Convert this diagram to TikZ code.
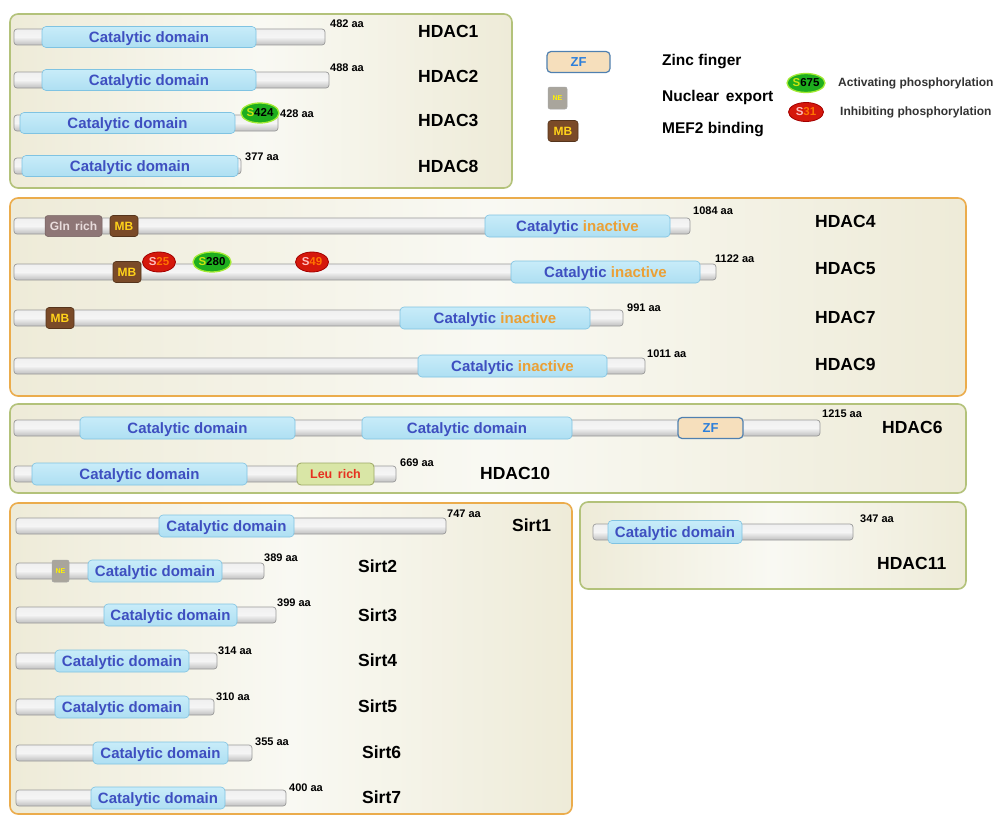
\documentclass[tikz,border=0pt]{standalone}
\usepackage{fontspec}
\setmainfont{Liberation Sans}
\usetikzlibrary{shapes.geometric}
\definecolor{catfill}{HTML}{AEDFF2}
\definecolor{catfilltop}{HTML}{C8ECF9}
\definecolor{catdraw}{HTML}{7FC3E2}
\definecolor{cattext}{HTML}{3E4FC0}
\definecolor{inact}{HTML}{EBA035}
\definecolor{mbfill}{HTML}{7A4A28}
\definecolor{mbtext}{HTML}{FFD21A}
\definecolor{glnfill}{HTML}{8E7676}
\definecolor{glntext}{HTML}{E8DCDC}
\definecolor{zffill}{HTML}{F6DFBC}
\definecolor{zfdraw}{HTML}{4F80B0}
\definecolor{zftext}{HTML}{2C7FDB}
\definecolor{nefill}{HTML}{A9A59C}
\definecolor{leufill}{HTML}{D9E6A6}
\definecolor{leudraw}{HTML}{9CA865}
\definecolor{leutext}{HTML}{E63020}
\definecolor{grnfill}{HTML}{1EAE1E}
\definecolor{grndraw}{HTML}{A2EA33}
\definecolor{redfill}{HTML}{D5180C}
\definecolor{reddraw}{HTML}{A30000}
\definecolor{boxgreen}{HTML}{B3C27A}
\definecolor{boxorange}{HTML}{EBAC4C}
\definecolor{beige}{HTML}{EEEBD8}
\definecolor{beigelt}{HTML}{F9F9F3}
\tikzset{
  grpbox/.style={rounded corners=8pt, line width=1.6pt, left color=beige, right color=beige, middle color=beigelt},
  greenbox/.style={grpbox, draw=boxgreen},
  orangebox/.style={grpbox, draw=boxorange},
  barsty/.style={rectangle, rounded corners=3pt, draw=gray!80, line width=0.7pt, top color=gray!12, bottom color=gray!50, middle color=gray!8, inner sep=0pt},
  catsty/.style={rectangle, rounded corners=4pt, draw=catdraw, line width=0.6pt, top color=catfilltop, bottom color=catfill, inner sep=0pt, text depth=0pt, font=\fontsize{15}{15}\selectfont\bfseries, text=cattext},
  mbsty/.style={rectangle, rounded corners=3pt, draw=mbfill!70!black, line width=0.6pt, fill=mbfill, inner sep=0pt, font=\fontsize{12}{12}\selectfont\bfseries, text=mbtext},
  glnsty/.style={rectangle, rounded corners=3pt, draw=glnfill!80!black, line width=0.5pt, fill=glnfill, inner sep=0pt, font=\fontsize{12}{12}\selectfont\bfseries, text=glntext},
  zfsty/.style={rectangle, rounded corners=4pt, draw=zfdraw, line width=1.2pt, fill=zffill, inner sep=0pt, font=\fontsize{13}{13}\selectfont\bfseries, text=zftext},
  nesty/.style={rectangle, rounded corners=2pt, draw=gray!70, line width=0.5pt, fill=nefill, inner sep=0pt, font=\fontsize{7}{7}\selectfont\bfseries, text=yellow},
  leusty/.style={rectangle, rounded corners=4pt, draw=leudraw, line width=0.8pt, fill=leufill, inner sep=0pt, font=\fontsize{12.5}{12.5}\selectfont\bfseries, text=leutext},
  actsty/.style={ellipse, draw=grndraw, line width=1.3pt, fill=grnfill, inner sep=0pt, minimum width=33pt, minimum height=20pt, font=\fontsize{11.5}{11.5}\selectfont\bfseries},
  inhsty/.style={ellipse, draw=reddraw, line width=0.8pt, fill=redfill, inner sep=0pt, minimum width=33pt, minimum height=20pt, font=\fontsize{11.5}{11.5}\selectfont\bfseries},
  aasty/.style={anchor=west, inner sep=0pt, font=\fontsize{11}{11}\selectfont\bfseries},
  namesty/.style={anchor=west, inner sep=0pt, font=\fontsize{17.5}{17.5}\selectfont\bfseries},
  legsty/.style={anchor=west, inner sep=0pt, font=\fontsize{15.5}{15.5}\selectfont\bfseries},
  legsmall/.style={anchor=west, inner sep=0pt, font=\fontsize{12}{12}\selectfont\bfseries, text=black!80},
}
% name, x1, x2, yc
\newcommand\pbar[4]{\node[barsty, minimum width={(#3-#2)*1pt}, minimum height=16pt] (#1) at ({(#2+#3)/2},#4) {};}
% name, style, x1, x2, yc, height, text
\newcommand\pdom[7]{\node[#2, minimum width={(#4-#3)*1pt}, minimum height=#6pt] (#1) at ({(#3+#4)/2},#5) {#7};}
\newcommand\actS[1]{{\color{yellow!80!green}S}{\color{black}#1}}
\newcommand\inhS[1]{{\color{red!25!white}S}{\color{orange!90!red}#1}}
\newcommand\catin{Catalytic {\color{inact}inactive}}
\begin{document}
\begin{tikzpicture}[x=1pt,y=-1pt]
\useasboundingbox[fill=white] (0,0) rectangle (995,816);
% group boxes
\node[greenbox, minimum width=502pt, minimum height=174pt] (box1) at (261,101) {};
\node[orangebox, minimum width=956pt, minimum height=198pt] (box2) at (488,297) {};
\node[greenbox, minimum width=956pt, minimum height=89pt] (box3) at (488,448.5) {};
\node[orangebox, minimum width=562pt, minimum height=311pt] (box4) at (291,658.5) {};
\node[greenbox, minimum width=386pt, minimum height=87pt] (box5) at (773,545.5) {};

% ---------- HDAC1/2/3/8
\pbar{h1bar}{14}{325}{37}
\pdom{h1cat}{catsty}{42}{256}{37}{21}{Catalytic domain}
\node[aasty] (h1aa) at (330,24) {482 aa};
\node[namesty] (h1name) at (418,31) {HDAC1};

\pbar{h2bar}{14}{329}{80}
\pdom{h2cat}{catsty}{42}{256}{80}{21}{Catalytic domain}
\node[aasty] (h2aa) at (330,68) {488 aa};
\node[namesty] (h2name) at (418,76) {HDAC2};

\pbar{h3bar}{14}{278}{123}
\pdom{h3cat}{catsty}{20}{235}{123}{21}{Catalytic domain}
\node[actsty] (h3p) at (260,113) {\actS{424}};
\node[aasty] (h3aa) at (280,114) {428 aa};
\node[namesty] (h3name) at (418,120) {HDAC3};

\pbar{h8bar}{14}{241}{166}
\pdom{h8cat}{catsty}{22}{238}{166}{21}{Catalytic domain}
\node[aasty] (h8aa) at (245,157) {377 aa};
\node[namesty] (h8name) at (418,166) {HDAC8};

% ---------- HDAC4/5/7/9
\pbar{h4bar}{14}{690}{226}
\pdom{h4gln}{glnsty}{45}{102}{226}{21}{Gln\, rich}
\pdom{h4mb}{mbsty}{110}{138}{226}{21}{MB}
\pdom{h4cat}{catsty}{485}{670}{226}{22}{\catin}
\node[aasty] (h4aa) at (693,211) {1084 aa};
\node[namesty] (h4name) at (815,221) {HDAC4};

\pbar{h5bar}{14}{716}{272}
\pdom{h5mb}{mbsty}{113}{141}{272}{21}{MB}
\node[inhsty] (h5p1) at (159,262) {\inhS{25}};
\node[actsty] (h5p2) at (212,262) {\actS{280}};
\node[inhsty] (h5p3) at (312,262) {\inhS{49}};
\pdom{h5cat}{catsty}{511}{700}{272}{22}{\catin}
\node[aasty] (h5aa) at (715,259) {1122 aa};
\node[namesty] (h5name) at (815,268) {HDAC5};

\pbar{h7bar}{14}{623}{318}
\pdom{h7mb}{mbsty}{46}{74}{318}{21}{MB}
\pdom{h7cat}{catsty}{400}{590}{318}{22}{\catin}
\node[aasty] (h7aa) at (627,308) {991 aa};
\node[namesty] (h7name) at (815,317) {HDAC7};

\pbar{h9bar}{14}{645}{366}
\pdom{h9cat}{catsty}{418}{607}{366}{22}{\catin}
\node[aasty] (h9aa) at (647,354) {1011 aa};
\node[namesty] (h9name) at (815,364) {HDAC9};

% ---------- HDAC6/10
\pbar{h6bar}{14}{820}{428}
\pdom{h6cat1}{catsty}{80}{295}{428}{22}{Catalytic domain}
\pdom{h6cat2}{catsty}{362}{572}{428}{22}{Catalytic domain}
\pdom{h6zf}{zfsty}{678}{743}{428}{21}{ZF}
\node[aasty] (h6aa) at (822,414) {1215 aa};
\node[namesty] (h6name) at (882,427) {HDAC6};

\pbar{h10bar}{14}{396}{474}
\pdom{h10cat}{catsty}{32}{247}{474}{22}{Catalytic domain}
\pdom{h10leu}{leusty}{297}{374}{474}{22}{Leu\, rich}
\node[aasty] (h10aa) at (400,463) {669 aa};
\node[namesty] (h10name) at (480,473) {HDAC10};

% ---------- Sirtuins
\pbar{s1bar}{16}{446}{526}
\pdom{s1cat}{catsty}{159}{294}{526}{22}{Catalytic domain}
\node[aasty] (s1aa) at (447,514) {747 aa};
\node[namesty] (s1name) at (512,525) {Sirt1};

\pbar{s2bar}{16}{264}{571}
\pdom{s2ne}{nesty}{52}{69}{571}{22}{NE}
\pdom{s2cat}{catsty}{88}{222}{571}{22}{Catalytic domain}
\node[aasty] (s2aa) at (264,558) {389 aa};
\node[namesty] (s2name) at (358,566) {Sirt2};

\pbar{s3bar}{16}{276}{615}
\pdom{s3cat}{catsty}{104}{237}{615}{22}{Catalytic domain}
\node[aasty] (s3aa) at (277,603) {399 aa};
\node[namesty] (s3name) at (358,615) {Sirt3};

\pbar{s4bar}{16}{217}{661}
\pdom{s4cat}{catsty}{55}{189}{661}{22}{Catalytic domain}
\node[aasty] (s4aa) at (218,651) {314 aa};
\node[namesty] (s4name) at (358,660) {Sirt4};

\pbar{s5bar}{16}{214}{707}
\pdom{s5cat}{catsty}{55}{189}{707}{22}{Catalytic domain}
\node[aasty] (s5aa) at (216,697) {310 aa};
\node[namesty] (s5name) at (358,706) {Sirt5};

\pbar{s6bar}{16}{252}{753}
\pdom{s6cat}{catsty}{93}{228}{753}{22}{Catalytic domain}
\node[aasty] (s6aa) at (255,742) {355 aa};
\node[namesty] (s6name) at (362,752) {Sirt6};

\pbar{s7bar}{16}{286}{798}
\pdom{s7cat}{catsty}{91}{225}{798}{22}{Catalytic domain}
\node[aasty] (s7aa) at (289,788) {400 aa};
\node[namesty] (s7name) at (362,797) {Sirt7};

% ---------- HDAC11
\pbar{h11bar}{593}{853}{532}
\pdom{h11cat}{catsty}{608}{742}{532}{23}{Catalytic domain}
\node[aasty] (h11aa) at (860,519) {347 aa};
\node[namesty] (h11name) at (877,563) {HDAC11};

% ---------- Legend
\pdom{lzf}{zfsty}{547}{610}{62}{21}{ZF}
\node[legsty] (lzft) at (662,62) {Zinc finger};
\pdom{lne}{nesty}{548}{567}{98}{22}{NE}
\node[legsty] (lnet) at (662,97) {Nuclear\, export};
\pdom{lmb}{mbsty}{548}{578}{131}{21}{MB}
\node[legsty] (lmbt) at (662,130) {MEF2 binding};
\node[actsty, minimum width=37pt, minimum height=19pt] (lact) at (806,83) {\actS{675}};
\node[legsmall] (lactt) at (838,83) {Activating phosphorylation};
\node[inhsty, minimum width=35pt, minimum height=19pt] (linh) at (806,112) {\inhS{31}};
\node[legsmall] (linht) at (840,112) {Inhibiting phosphorylation};
\end{tikzpicture}
\end{document}
